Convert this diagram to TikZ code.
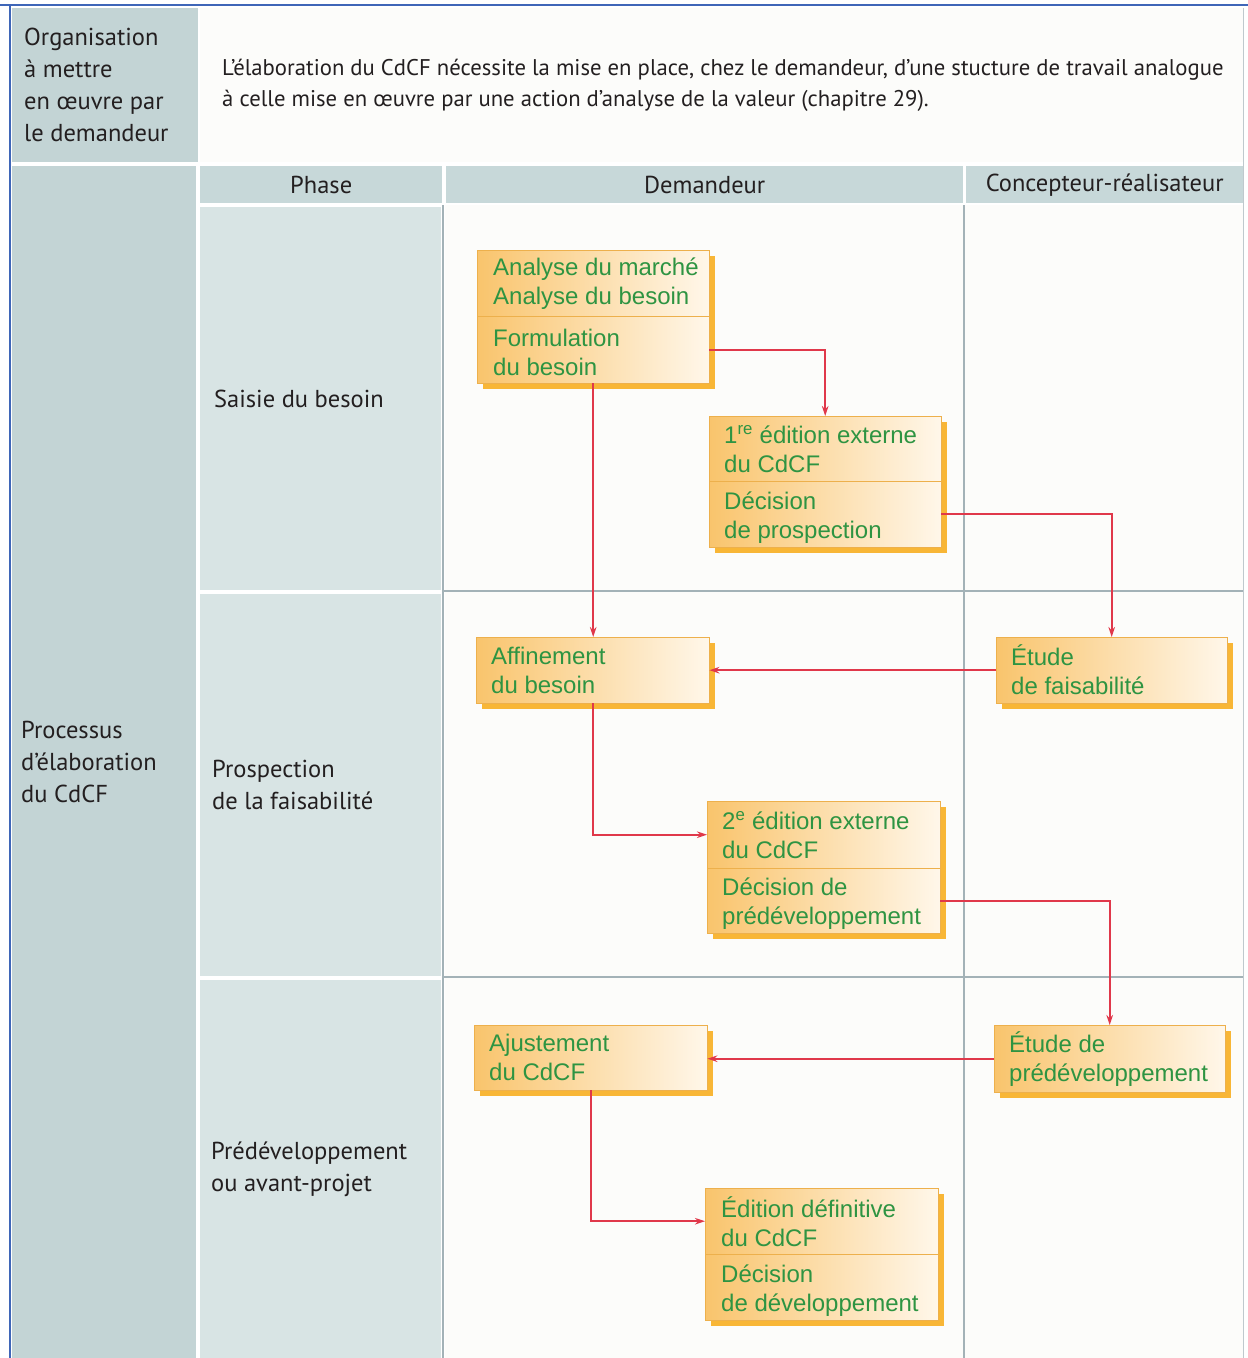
\documentclass[tikz,border=0pt]{standalone}
\usepackage{fontspec}
\setmainfont{PT Sans}
\newfontfamily\boxfont{Liberation Sans}
\usetikzlibrary{arrows.meta}
\definecolor{framebl}{HTML}{3F66B8}
\definecolor{colgray}{HTML}{C3D4D5}
\definecolor{hdrgray}{HTML}{C7D8D9}
\definecolor{phasegray}{HTML}{D8E4E4}
\definecolor{cellwhite}{HTML}{FCFCFA}
\definecolor{gridline}{HTML}{A3B2B7}
\definecolor{textdark}{HTML}{231F20}
\definecolor{boxgreen}{HTML}{2E9442}
\definecolor{boxL}{HTML}{F9C46C}
\definecolor{boxM}{HTML}{FFF1D8}
\definecolor{boxR}{HTML}{FFF7EA}
\definecolor{boxedge}{HTML}{EDB04C}
\definecolor{shadowc}{HTML}{F8B636}
\definecolor{arrowred}{HTML}{E0384A}
\newcommand\obox[2]{%
  \fill[shadowc] ([shift={(6,6)}]#1.north west) rectangle ([shift={(6,6)}]#2.south east);
  \draw[draw=boxedge, line width=0.9pt, left color=boxL, middle color=boxM, right color=boxR] (#1.north west) rectangle (#2.south east);}
\begin{document}
\begin{tikzpicture}[x=1pt,y=-1pt,
  cell/.style={rectangle, inner sep=0pt, anchor=north west, draw=none},
  txt/.style={inner sep=0pt, align=left, anchor=west, text=textdark, font=\fontsize{24.5}{32}\selectfont},
  introstyle/.style={inner sep=0pt, align=left, anchor=west, text=textdark, font=\fontsize{22.7}{31}\selectfont},
  hdrtxt/.style={inner sep=0pt, text=textdark, font=\fontsize{24.5}{32}\selectfont},
  sec/.style={rectangle, inner sep=0pt, anchor=north west, draw=none},
  btxt/.style={inner sep=0pt, align=left, anchor=west, text=boxgreen, font=\boxfont\fontsize{24}{29}\selectfont},
  gl/.style={draw=gridline, line width=1.2pt},
  divline/.style={draw=boxedge, line width=1pt},
  arr/.style={draw=arrowred, line width=1.6pt, -{Stealth[length=10pt,width=6.5pt]}}]
\useasboundingbox (0,0) rectangle (1248,1358);
\fill[white] (0,0) rectangle (1248,1358);
% frame
\draw[framebl, line width=1.6pt] (0,5) -- (1248,5);
\draw[framebl, line width=1.6pt] (10,5) -- (10,1358);
% header row
\node[cell, fill=colgray, minimum width=186pt, minimum height=154pt] (orgcell) at (12,8) {};
\node[cell, fill=cellwhite, minimum width=1043pt, minimum height=154pt] (introcell) at (200,8) {};
% left column
\node[cell, fill=colgray, minimum width=184pt, minimum height=1192pt] (proccell) at (12,166) {};
% column headers
\node[cell, fill=hdrgray, minimum width=242pt, minimum height=37pt] (hphase) at (200,166) {};
\node[cell, fill=hdrgray, minimum width=517pt, minimum height=37pt] (hdem) at (446,166) {};
\node[cell, fill=hdrgray, minimum width=277pt, minimum height=37pt] (hcon) at (966,166) {};
% phase cells
\node[cell, fill=phasegray, minimum width=241pt, minimum height=383pt] (r1) at (200,207) {};
\node[cell, fill=phasegray, minimum width=241pt, minimum height=382pt] (r2) at (200,594) {};
\node[cell, fill=phasegray, minimum width=241pt, minimum height=378pt] (r3) at (200,980) {};
% work area
\node[cell, fill=cellwhite, minimum width=798pt, minimum height=1153pt] (work) at (445,205) {};
\draw[gl] (443,205) -- (443,1358);
\draw[gl] (964,205) -- (964,1358);
\draw[gl] (443,591) -- (1243,591);
\draw[gl] (443,977) -- (1243,977);
\draw[draw=gridline!70, line width=1pt] (1243,8) -- (1243,1358);
% header texts
\node[txt] (orgtxt) at ([xshift=12pt]orgcell.west) {Organisation\\à mettre\\en œuvre par\\le demandeur};
\node[introstyle] (introtxt) at ([xshift=22pt]introcell.west) {L’élaboration du CdCF nécessite la mise en place, chez le demandeur, d’une stucture de travail analogue\\à celle mise en œuvre par une action d’analyse de la valeur (chapitre 29).};
\node[txt] (proctxt) at ([xshift=9pt]proccell.west) {Processus\\d’élaboration\\du CdCF};
\node[hdrtxt] (hphasetxt) at (hphase.center) {Phase};
\node[hdrtxt] (hdemtxt) at (hdem.center) {Demandeur};
\node[hdrtxt] (hcontxt) at (hcon.center) {Concepteur-réalisateur};
\node[txt] (r1txt) at ([xshift=14pt]r1.west) {Saisie du besoin};
\node[txt] (r2txt) at ([xshift=12pt]r2.west) {Prospection\\de la faisabilité};
\node[txt] (r3txt) at ([xshift=11pt]r3.west) {Prédéveloppement\\ou avant-projet};
% box sections
\node[sec, minimum width=232pt, minimum height=66pt] (a1t) at (477,250) {};
\node[sec, minimum width=232pt, minimum height=67pt] (a1b) at (477,316) {};
\node[sec, minimum width=232pt, minimum height=65pt] (b1t) at (709,416) {};
\node[sec, minimum width=232pt, minimum height=66pt] (b1b) at (709,481) {};
\node[sec, minimum width=233pt, minimum height=66pt] (a2) at (476,637) {};
\node[sec, minimum width=231pt, minimum height=66pt] (c2) at (996,637) {};
\node[sec, minimum width=233pt, minimum height=67pt] (b2t) at (707,801) {};
\node[sec, minimum width=233pt, minimum height=65pt] (b2b) at (707,868) {};
\node[sec, minimum width=233pt, minimum height=65pt] (a3) at (474,1025) {};
\node[sec, minimum width=231pt, minimum height=67pt] (c3) at (994,1025) {};
\node[sec, minimum width=233pt, minimum height=66pt] (b3t) at (705,1188) {};
\node[sec, minimum width=233pt, minimum height=66pt] (b3b) at (705,1254) {};
% box drawing
\obox{a1t}{a1b}
\obox{b1t}{b1b}
\obox{a2}{a2}
\obox{c2}{c2}
\obox{b2t}{b2b}
\obox{a3}{a3}
\obox{c3}{c3}
\obox{b3t}{b3b}
\draw[divline] (a1t.south west) -- (a1t.south east);
\draw[divline] (b1t.south west) -- (b1t.south east);
\draw[divline] (b2t.south west) -- (b2t.south east);
\draw[divline] (b3t.south west) -- (b3t.south east);
% box texts
\node[btxt] (a1tt) at ([xshift=16pt]a1t.west) {Analyse du marché\\Analyse du besoin};
\node[btxt] (a1bt) at ([xshift=16pt,yshift=-3pt]a1b.west) {Formulation\\du besoin};
\node[btxt] (b1tt) at ([xshift=15pt]b1t.west) {1\textsuperscript{re} édition externe\\du CdCF};
\node[btxt] (b1bt) at ([xshift=15pt,yshift=-3pt]b1b.west) {Décision\\de prospection};
\node[btxt] (a2t) at ([xshift=15pt]a2.west) {Affinement\\du besoin};
\node[btxt] (c2t) at ([xshift=15pt]c2.west) {Étude\\de faisabilité};
\node[btxt] (b2tt) at ([xshift=15pt]b2t.west) {2\textsuperscript{e} édition externe\\du CdCF};
\node[btxt] (b2bt) at ([xshift=15pt,yshift=-3pt]b2b.west) {Décision de\\prédéveloppement};
\node[btxt] (a3t) at ([xshift=15pt]a3.west) {Ajustement\\du CdCF};
\node[btxt] (c3t) at ([xshift=15pt]c3.west) {Étude de\\prédéveloppement};
\node[btxt] (b3tt) at ([xshift=16pt]b3t.west) {Édition définitive\\du CdCF};
\node[btxt] (b3bt) at ([xshift=16pt,yshift=-3pt]b3b.west) {Décision\\de développement};
% arrows
\draw[arr] (a1b.east) -| (b1t.north);
\draw[arr] (a1b.south) -- (a1b.south |- a2.north);
\draw[arr] (b1b.east) -| (c2.north);
\draw[arr] (c2.west) -- (c2.west -| a2.east);
\draw[arr] (a2.south) |- (b2t.west);
\draw[arr] (b2b.east) -| (c3.north);
\draw[arr] (c3.west) -- (c3.west -| a3.east);
\draw[arr] (a3.south) |- (b3t.west);
\end{tikzpicture}
\end{document}
